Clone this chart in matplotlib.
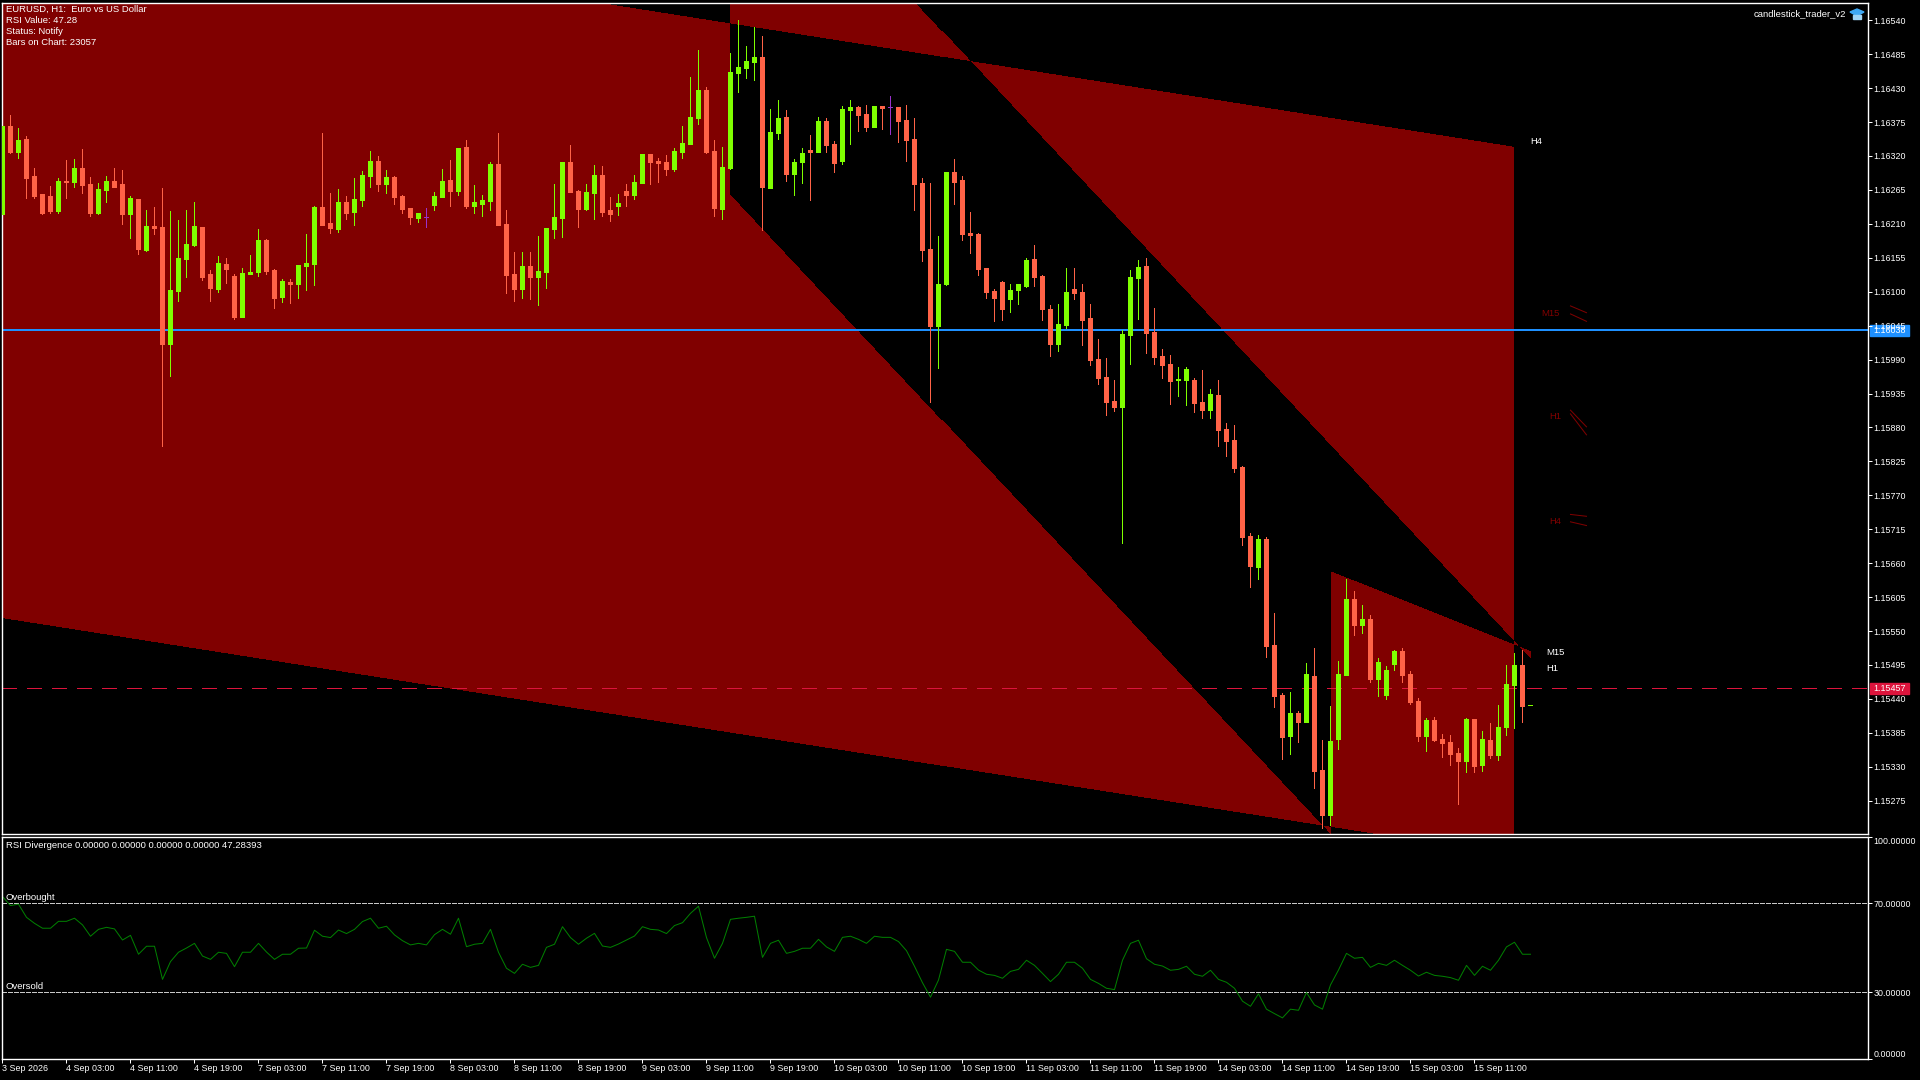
import numpy as np
import matplotlib
matplotlib.use("Agg")
import matplotlib.pyplot as plt
from matplotlib.colors import ListedColormap
from matplotlib.path import Path
from matplotlib.patches import Rectangle, Polygon

plt.rcParams['font.family'] = ['Liberation Sans', 'DejaVu Sans']
plt.rcParams['lines.scale_dashes'] = False

# prices are stored as points above 1.15000
base = 1.15

direction = ("GRGRRRRGRG" "RRGGRRGRGR" "RGGGGRRGRR" "GGGRRGRGGG" "RRGRGGGRGR"
             "RRGDGGRGRG" "GGRRRGRGGG" "GRRGGRRGRG" "GRRRGGGGRR" "GGGGGRGGRG"
             "GRGRRGGRRG" "RDRRRRRGGR" "RRRRRRGGGR" "RRGGRRRRRR" "GGGRRRRGGR"
             "RGRRRRRGRR" "RGRGRRGGGR" "GRGGGRRRGR" "RRRGRGRGGGRG")

highs = [1369,1387,1366,1353,1301,1259,1272,1285,1314,1315,
         1332,1286,1276,1288,1301,1298,1255,1251,1233,1238,
         1268,1231,1216,1233,1246,1205,1135,1158,1155,1129,
         1139,1160,1202,1186,1137,1121,1121,1144,1194,1239,
         1358,1260,1267,1255,1285,1296,1328,1320,1298,1288,
         1257,1236,1228,1236,1262,1299,1314,1333,1346,1273,
         1257,1310,1357,1233,1165,1165,1165,1190,1203,1275,
         1310,1338,1265,1275,1306,1304,1254,1259,1275,1289,
         1323,1323,1317,1322,1333,1369,1448,1492,1432,1346,
         1335,1487,1541,1498,1529,1515,1396,1411,1395,1315,
         1333,1354,1383,1382,1344,1401,1411,1401,1403,1401,
         1401,1417,1400,1403,1382,1284,1276,1190,1294,1315,
         1288,1229,1195,1139,1105,1118,1113,1113,1155,1176,
         1127,1079,1080,1139,1139,1113,1080,1024,993,957,
         1038,1135,1152,1155,1074,1007,998,978,978,960,
         973,942,957,887,884,818,709,706,702,579,
         449,451,420,498,522,373,428,501,634,615,
         592,576,506,493,519,522,485,441,409,411,
         383,381,360,409,407,388,401,430,495,514,
         519,430]

body_tops = [1369,1369,1346,1348,1288,1259,1255,1280,1280,1301,
             1301,1275,1267,1280,1280,1275,1252,1251,1207,1207,
             1205,1103,1155,1178,1207,1205,1129,1147,1145,1126,
             1131,1132,1184,1184,1135,1118,1116,1144,1147,1238,
             1238,1212,1246,1246,1251,1289,1312,1312,1286,1286,
             1255,1236,1228,1221,1255,1280,1281,1333,1335,1246,
             1249,1307,1307,1210,1129,1142,1142,1134,1203,1221,
             1310,1310,1263,1262,1289,1289,1233,1244,1263,1278,
             1323,1323,1312,1310,1328,1341,1383,1427,1427,1328,
             1302,1456,1464,1474,1481,1481,1359,1382,1383,1310,
             1325,1330,1377,1377,1340,1396,1400,1400,1388,1401,
             1401,1399,1400,1378,1348,1276,1169,1113,1294,1294,
             1281,1195,1194,1139,1101,1116,1103,1113,1152,1153,
             1126,1072,1048,1100,1105,1100,1058,991,962,923,
             1032,1124,1140,1142,1035,996,983,959,975,957,
             921,934,933,878,860,816,704,699,699,527,
             446,417,417,480,477,325,372,480,602,602,
             569,569,500,487,518,518,480,437,406,406,
             375,370,352,407,407,375,373,394,464,495,
             495,430]

body_bots = [1226,1327,1327,1285,1255,1228,1231,1231,1278,1278,
             1273,1228,1228,1265,1270,1226,1226,1169,1168,1204,
             1015,1015,1101,1153,1176,1124,1106,1105,1137,1059,
             1059,1129,1132,1134,1090,1092,1113,1113,1142,1145,
             1208,1204,1202,1228,1229,1249,1288,1275,1275,1254,
             1234,1221,1220,1221,1241,1254,1263,1263,1239,1239,
             1242,1247,1208,1127,1105,1105,1124,1124,1132,1202,
             1220,1262,1234,1234,1260,1229,1226,1239,1257,1257,
             1276,1310,1309,1299,1299,1327,1340,1382,1327,1236,
             1234,1301,1455,1463,1473,1270,1268,1357,1291,1291,
             1310,1327,1327,1338,1309,1312,1395,1387,1367,1367,
             1398,1399,1377,1346,1275,1168,1045,1045,1113,1278,
             1194,1192,1137,1100,1090,1072,1088,1103,1109,1124,
             1072,1015,1015,1046,1098,1054,989,960,921,913,
             913,1030,1122,1033,994,981,955,957,957,920,
             908,908,876,858,814,703,655,654,526,445,
             378,380,402,402,323,252,252,375,479,560,
             560,472,472,446,496,479,435,380,380,373,
             368,351,339,339,331,333,349,349,394,462,
             428,430]

lows = [1226,1325,1317,1252,1252,1226,1228,1228,1252,1270,
        1260,1223,1226,1246,1270,1210,1187,1161,1166,1194,
        850,964,1085,1124,1174,1119,1085,1100,1114,1056,
        1059,1129,1126,1129,1074,1084,1082,1090,1103,1111,
        1208,1195,1197,1218,1208,1239,1270,1263,1260,1242,
        1228,1210,1213,1205,1233,1254,1239,1257,1236,1228,
        1223,1233,1208,1098,1085,1090,1088,1079,1106,1187,
        1189,1262,1205,1233,1218,1223,1215,1225,1239,1250,
        1276,1275,1278,1289,1296,1317,1340,1372,1325,1223,
        1218,1299,1424,1447,1443,1200,1268,1348,1280,1257,
        1276,1249,1327,1327,1294,1307,1340,1361,1361,1367,
        1364,1356,1343,1312,1233,1150,921,977,1111,1242,
        1184,1163,1127,1090,1053,1054,1067,1080,1108,1109,
        1054,996,1004,1041,1088,1014,981,951,900,907,
        693,983,1056,1001,983,960,918,931,917,905,
        895,895,850,834,808,690,621,634,508,427,
        343,351,370,402,296,231,236,359,479,544,
        547,467,445,440,487,467,432,372,355,372,
        346,333,270,321,321,323,344,341,381,393,
        402,430]

rsi = [73.0,69.0,69.6,63.7,61.0,58.8,58.8,61.9,61.9,63.3,
       60.3,55.2,58.3,59.2,58.5,53.5,55.6,47.1,50.7,50.7,
       35.8,43.8,48.0,49.9,52.0,46.3,44.8,48.0,47.5,41.5,
       48.0,48.0,52.0,48.1,44.8,47.1,47.1,49.8,49.9,57.9,
       55.2,54.6,58.0,56.4,58.3,61.8,63.3,58.8,59.7,55.8,
       53.2,51.3,52.0,51.3,55.9,58.3,56.1,63.3,50.5,51.6,
       52.0,58.3,48.0,40.8,38.5,42.6,41.2,42.1,50.2,51.6,
       59.5,54.6,51.6,54.3,56.5,50.8,50.2,51.7,53.5,55.3,
       59.5,58.3,58.0,56.4,60.0,61.3,65.5,68.7,54.6,45.3,
       52.0,62.8,63.3,63.7,64.2,45.7,52.0,53.4,47.5,48.4,
       49.8,49.8,53.8,50.4,48.4,54.7,55.2,53.8,52.0,55.2,
       54.7,54.7,52.8,48.7,41.7,34.3,27.8,35.5,49.3,48.4,
       43.5,43.5,40.0,38.1,37.6,36.3,39.4,40.3,44.4,42.1,
       38.5,34.8,38.1,43.5,43.5,40.8,35.8,34.0,31.8,31.2,
       44.4,52.0,53.4,45.1,42.6,41.8,39.9,40.3,41.7,38.1,
       37.2,39.9,35.8,34.5,31.8,26.0,23.7,29.3,22.4,20.4,
       18.5,22.4,21.9,29.9,24.3,22.4,33.3,40.0,47.5,45.3,
       45.7,41.2,43.0,42.1,44.4,42.1,39.9,37.3,39.0,37.6,
       37.2,36.6,35.4,42.1,37.6,41.7,39.9,44.4,50.4,52.5,
       47.1,47.1]

# fill corners: (bar, price) in order round each channel
h4_channel = [(-1, 1.16723), (188.8, 1.16335), (188.8, 1.15186), (-1, 1.15573)]
h1_channel = [(91, 1.16888), (191, 1.15504), (191, 1.14874), (91, 1.16257)]
m15_channel = [(165.9, 1.15647), (191, 1.15517), (191, 1.14800), (165.9, 1.14800)]

price_ticks = [1.16540, 1.16485, 1.16430, 1.16375, 1.16320, 1.16265, 1.16210, 1.16155,
               1.16100, 1.16045, 1.15990, 1.15935, 1.15880, 1.15825, 1.15770, 1.15715,
               1.15660, 1.15605, 1.15550, 1.15495, 1.15440, 1.15385, 1.15330, 1.15275]
time_labels = ["3 Sep 2026", "4 Sep 03:00", "4 Sep 11:00", "4 Sep 19:00", "7 Sep 03:00",
               "7 Sep 11:00", "7 Sep 19:00", "8 Sep 03:00", "8 Sep 11:00", "8 Sep 19:00",
               "9 Sep 03:00", "9 Sep 11:00", "9 Sep 19:00", "10 Sep 03:00", "10 Sep 11:00",
               "10 Sep 19:00", "11 Sep 03:00", "11 Sep 11:00", "11 Sep 19:00", "14 Sep 03:00",
               "14 Sep 11:00", "14 Sep 19:00", "15 Sep 03:00", "15 Sep 11:00"]
info_lines = ["EURUSD, H1:  Euro vs US Dollar", "RSI Value: 47.28", "Status: Notify", "Bars on Chart: 23057"]

ask_price = 1.16038
bid_price = 1.15457

BULL = "#7FFF00"
BEAR = "#FF6347"
DOJI = "#9932CC"
FONT = 6.8
NUM_FONT = 6.4


def px(x, y):
    return x / 1920, 1 - y / 1080


fig = plt.figure(figsize=(19.2, 10.8), dpi=100, facecolor="black")
ax = fig.add_axes([2 / 1920, 1 - 834 / 1080, 1866 / 1920, 831 / 1080], facecolor="black")
sub = fig.add_axes([2 / 1920, 1 - 1059 / 1080, 1866 / 1920, 222.4 / 1080], facecolor="black")

x_min, x_max = -0.0625, 233.19
y_min, y_max = 1.15221, 1.16568

# channels overlap like the terminal draws them: an even count cancels out
nx, ny = 1866, 831
xs = x_min + (np.arange(nx) + 0.5) * (x_max - x_min) / nx
ys = y_max - (np.arange(ny) + 0.5) * (y_max - y_min) / ny
gx, gy = np.meshgrid(xs, ys)
pts = np.column_stack([gx.ravel(), gy.ravel()])
count = np.zeros(len(pts), dtype=int)
for channel in [h4_channel, h1_channel, m15_channel]:
    count += Path(channel + [channel[0]]).contains_points(pts).astype(int)
mask = (count % 2).reshape(ny, nx)
ax.imshow(mask, extent=[x_min, x_max, y_min, y_max], aspect="auto", interpolation="nearest",
          cmap=ListedColormap(["black", "#800000"]), vmin=0, vmax=1, zorder=0)

ax.axhline(ask_price, color="#1E90FF", lw=1.44, antialiased=False, zorder=1)
ax.axhline(bid_price, color="#DC143C", lw=1.0, dashes=(10.1, 7.2), antialiased=False, zorder=1)

bars = np.arange(len(highs))
colors = [{"G": BULL, "R": BEAR, "D": DOJI}[d] for d in direction]
hi = base + np.array(highs) / 1e5
lo = base + np.array(lows) / 1e5
top = base + np.array(body_tops) / 1e5
bot = base + np.array(body_bots) / 1e5
ax.vlines(bars, lo, hi, colors=colors, linewidth=0.72, antialiased=False, zorder=3)
ax.bar(bars, top - bot, bottom=bot, width=0.5, color=colors, edgecolor=colors,
       linewidth=0.72, antialiased=False, zorder=4)

ax.set_xlim(x_min, x_max)
ax.set_ylim(y_min, y_max)
ax.set_axisbelow(False)
ax.set_xticks([])
ax.yaxis.tick_right()
ax.set_yticks(price_ticks)
ax.set_yticklabels(["%.5f" % p for p in price_ticks])
ax.tick_params(axis="y", colors="white", length=2.9, width=0.72, pad=1, labelsize=NUM_FONT)
for s in ax.spines.values():
    s.set_color("white")
    s.set_linewidth(1.0)

# timeframe labels
ax.text(191, 1.16343, "H4", color="white", fontsize=FONT, va="center")
ax.text(193, 1.15516, "M15", color="white", fontsize=FONT, va="center")
ax.text(193, 1.15489, "H1", color="white", fontsize=FONT, va="center")
ax.text(192.4, 1.16064, "M15", color="#800000", fontsize=FONT, va="center")
ax.text(193.3, 1.15897, "H1", color="#800000", fontsize=FONT, va="center")
ax.text(193.3, 1.15727, "H4", color="#800000", fontsize=FONT, va="center")
arrow_lines = [(1.16077, 1.16066), (1.16064, 1.16052), (1.15908, 1.15881),
               (1.15902, 1.15868), (1.15739, 1.15736), (1.15727, 1.15721)]
for a, b in arrow_lines:
    ax.plot([196, 198], [a, b], color="#800000", lw=0.72, zorder=2)

# price tags on the right axis
for price, col, y0 in [(ask_price, "#1E90FF", 325), (bid_price, "#DC143C", 683)]:
    x0, y1 = px(1870, y0 + 11)
    ax.add_patch(Rectangle((x0, y1), 39 / 1920, 11 / 1080, transform=fig.transFigure,
                           color=col, clip_on=False, zorder=2))
    tx, ty = px(1873, y0 + 5.5)
    ax.text(tx, ty, "%.5f" % price, color="white", fontsize=NUM_FONT, va="center",
            transform=fig.transFigure, zorder=2.1)

for i, line in enumerate(info_lines):
    tx, ty = px(6.5, 9.7 + 11 * i)
    fig.text(tx, ty, line, color="white", fontsize=FONT, va="center")

tx, ty = px(1846, 13.7)
fig.text(tx, ty, "candlestick_trader_v2", color="white", fontsize=FONT, va="center", ha="right")
fig.add_artist(Polygon([px(1850, 12), px(1857, 9), px(1864, 12), px(1857, 16)],
                       transform=fig.transFigure, color="#3FA9F5"))
fig.add_artist(Polygon([px(1853, 15), px(1861, 15), px(1861, 19), px(1853, 19)],
                       transform=fig.transFigure, color="#9FD4F5"))

# RSI panel
sub.axhline(70, color="#C8C8C8", lw=0.72, dashes=(2.9, 1.44), antialiased=False)
sub.axhline(30, color="#C8C8C8", lw=0.72, dashes=(2.9, 1.44), antialiased=False)
sub.plot(bars, rsi, color="#008000", lw=0.72)
sub.set_xlim(x_min, x_max)
sub.set_ylim(0, 100)
sub.yaxis.tick_right()
sub.set_yticks([100, 70, 30, 0])
rsi_labels = sub.set_yticklabels(["100.00000", "70.00000", "30.00000", "0.00000"])
rsi_labels[0].set_va("top")
rsi_labels[3].set_va("bottom")
sub.set_xticks(np.arange(len(time_labels)) * 8)
sub.set_xticklabels(time_labels, ha="left")
sub.tick_params(axis="both", colors="white", length=2.9, width=0.72, labelsize=NUM_FONT)
sub.tick_params(axis="y", pad=1)
sub.tick_params(axis="x", pad=1)
for s in sub.spines.values():
    s.set_color("white")
    s.set_linewidth(1.0)

tx, ty = px(5.5, 845.7)
fig.text(tx, ty, "RSI Divergence 0.00000 0.00000 0.00000 0.00000 47.28393", color="white",
         fontsize=FONT, va="center")
tx, ty = px(6, 897.7)
fig.text(tx, ty, "Overbought", color="white", fontsize=FONT, va="center")
tx, ty = px(6, 986.7)
fig.text(tx, ty, "Oversold", color="white", fontsize=FONT, va="center")

fig.savefig("out.png", dpi=100, facecolor="black")
